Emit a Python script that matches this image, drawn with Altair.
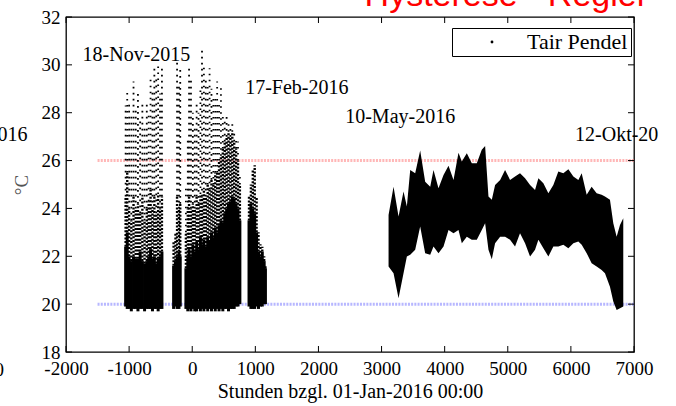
import altair as alt
import pandas as pd

# ---------------- data ----------------
x_ticks = [-2000, -1000, 0, 1000, 2000, 3000, 4000, 5000, 6000, 7000]
y_ticks = [18, 20, 22, 24, 26, 28, 30, 32]

# winter period (heating, scattered): hour, lower edge, top of dense band,
# top of moderately dense dots, highest point
w_hours = [-1055, -1030, -1000, -965, -930, -895, -860, -825, -790, -755, -720, -690,
           -660, -630, -600, -570, -540, -510, -480,
           -295, -265, -240, -210, -190,
           -100, -70, -50, -20, 10, 40, 70, 100, 130, 155, 185, 215, 245, 275, 305,
           335, 365, 395, 425, 455, 485, 515, 545, 575, 605, 635, 665, 695, 725, 755,
           900, 930, 960, 990, 1020, 1050, 1080, 1110, 1140, 1160]
w_low = [19.9, 19.8, 19.8, 19.7, 19.8, 19.8, 19.7, 19.8, 19.8, 19.7, 19.8, 19.8,
         19.8, 19.7, 19.8, 19.8, 19.7, 19.8, 19.8,
         19.8, 19.9, 19.8, 19.8, 19.9,
         19.8, 19.7, 19.8, 19.7, 19.8, 19.7, 19.7, 19.8, 19.7, 19.8, 19.7, 19.8, 19.7, 19.8, 19.7,
         19.8, 19.7, 19.8, 19.7, 19.8, 19.7, 19.8, 19.8, 19.7, 19.8, 19.8, 19.8, 19.9, 19.9, 20.0,
         19.9, 19.8, 19.8, 19.8, 19.9, 19.8, 19.9, 19.9, 20.0, 20.0]
w_dense = [22.4, 23.0, 22.0, 21.8, 22.0, 21.9, 21.9, 22.2, 21.8, 21.7, 21.8, 22.0,
           22.3, 21.9, 22.0, 21.7, 21.9, 22.0, 22.2,
           21.6, 21.8, 22.0, 22.2, 22.0,
           21.5, 22.0, 22.3, 22.0, 22.5, 22.2, 22.6, 22.3, 22.8, 22.5, 22.7, 22.4, 22.8, 22.6, 23.0,
           22.8, 23.2, 23.0, 23.3, 23.5, 23.4, 23.8, 24.0, 24.2, 24.3, 24.5, 24.4, 24.2, 24.0, 23.5,
           23.5, 24.2, 24.0, 23.8, 23.0, 22.2, 22.0, 22.2, 21.8, 21.5]
w_mid = [24.5, 25.5, 24.0, 23.5, 24.5, 24.0, 24.2, 23.8, 24.5, 23.5, 24.0, 24.3,
         24.8, 24.0, 24.5, 23.8, 24.6, 24.0, 24.5,
         22.6, 23.0, 24.5, 24.0, 24.2,
         23.0, 24.0, 24.5, 24.0, 24.2, 24.0, 24.5, 24.2, 24.6, 24.5, 24.8, 24.5, 25.0, 24.8, 25.2,
         25.0, 25.5, 25.5, 26.0, 26.2, 26.5, 26.8, 27.0, 27.2, 27.0, 27.2, 26.8, 26.5, 26.0, 25.0,
         24.5, 25.0, 25.6, 25.8, 24.5, 23.0, 22.5, 22.4, 22.0, 21.6]
w_top = [28.3, 28.95, 28.5, 28.0, 29.3, 28.2, 28.9, 27.8, 28.5, 27.5, 28.4, 28.0,
         29.4, 29.0, 30.0, 29.5, 30.1, 28.8, 30.0,
         22.6, 23.0, 30.1, 29.2, 29.9,
         25.0, 27.0, 29.86, 29.4, 28.0, 27.5, 28.5, 28.0, 29.0, 30.7, 29.9, 29.5, 29.2, 29.86, 29.0,
         28.7, 28.6, 29.3, 28.5, 29.1, 28.0, 27.8, 27.9, 27.6, 27.5, 27.6, 27.2, 27.0, 26.8, 25.5,
         24.5, 25.0, 25.6, 25.8, 24.5, 23.0, 22.5, 22.4, 22.0, 21.6]

# summer period (dense band): hour, upper edge, lower edge
s_hours = [3111, 3190, 3269, 3348, 3401, 3454, 3533, 3612, 3691, 3771, 3823, 3902,
           3982, 4061, 4140, 4219, 4272, 4351, 4430, 4509, 4588, 4641, 4694, 4747,
           4799, 4879, 4957, 5036, 5115, 5194, 5274, 5353, 5432, 5485, 5564, 5643,
           5722, 5801, 5880, 5960, 6039, 6118, 6171, 6250, 6329, 6408, 6487, 6540,
           6619, 6672, 6725, 6778, 6830]
s_top = [23.73, 24.91, 23.66, 24.71, 24.08, 25.61, 25.47, 26.42, 25.12, 24.91, 25.61, 24.84,
         25.40, 25.78, 25.19, 26.33, 25.96, 26.31, 25.89, 25.89, 26.45, 26.61, 24.50, 24.36,
         24.98, 25.19, 25.61, 25.19, 25.33, 25.47, 25.26, 24.98, 24.77, 25.26, 25.05, 24.63,
         24.98, 25.54, 25.47, 25.64, 25.33, 25.19, 25.47, 24.57, 24.91, 24.63, 24.57, 24.50,
         24.36, 23.38, 22.82, 23.31, 23.59]
s_low = [21.57, 21.29, 20.25, 21.29, 21.99, 22.06, 22.27, 23.24, 22.13, 22.06, 22.41, 22.13,
         22.41, 23.10, 22.96, 23.10, 22.55, 22.82, 22.69, 22.69, 23.10, 23.38, 22.27, 21.88,
         22.55, 22.82, 22.82, 22.69, 22.41, 22.96, 22.55, 21.99, 22.27, 22.69, 22.34, 21.99,
         22.41, 22.41, 22.48, 22.34, 22.55, 22.62, 22.48, 22.13, 21.71, 21.57, 21.43, 21.29,
         20.73, 20.11, 19.76, 19.83, 19.90]

series_name = "Tair Pendel"

# hysteresis limits
hyst_levels = [26, 20]
hyst_kind = ["upper", "lower"]
hyst_from = [-1500, -1500]
hyst_to = [7000, 7000]

# annotations
ann_text = ["18-Nov-2015", "17-Feb-2016", "10-May-2016", "12-Okt-20", "016"]
ann_x = [-884, 1657, 3295, 6726, -2847]
ann_y = [30.42, 29.02, 27.83, 27.07, 27.07]
frag_text = ["0"]
frag_x = [-3057]
frag_y = [17.25]

# ---------------- chart ----------------
W, H = 568, 335
SERIF = "Liberation Serif"

xs = alt.Scale(domain=[-2000, 7000], nice=False, zero=False)
ys = alt.Scale(domain=[18, 32], nice=False, zero=False)
xaxis = alt.Axis(values=x_ticks, title="Stunden bzgl. 01-Jan-2016 00:00",
                 labelExpr="'' + datum.value", labelPadding=7, titlePadding=3,
                 labelFlush=False, labelOverlap=False, domain=False, ticks=False, grid=False,
                 labelFont=SERIF, labelFontSize=19, labelColor="black",
                 titleFont=SERIF, titleFontSize=20, titleFontWeight="normal", titleColor="black")
yaxis = alt.Axis(values=y_ticks, title="°C", labelExpr="'' + datum.value",
                 labelPadding=6, titlePadding=10, labelFlush=False, labelOverlap=False,
                 domain=False, ticks=False, grid=False,
                 labelFont=SERIF, labelFontSize=19, labelColor="black",
                 titleFont=SERIF, titleFontSize=19, titleFontWeight="normal", titleColor="#555555")


def X(field):
    return alt.X(field, type="quantitative", scale=xs, axis=xaxis)


def Y(field):
    return alt.Y(field, type="quantitative", scale=ys, axis=yaxis)


winter = pd.DataFrame({"x": w_hours, "lo": w_low, "hi": w_dense, "mid": w_mid, "top": w_top})
summer = pd.DataFrame({"x": s_hours, "top": s_top, "lo": s_low,
                       "series": [series_name] * len(s_hours)})
hyst = pd.DataFrame({"x": hyst_from, "x2": hyst_to, "y": hyst_levels, "kind": hyst_kind})
ann = pd.DataFrame({"x": ann_x, "y": ann_y, "t": ann_text})
frag = pd.DataFrame({"x": frag_x, "y": frag_y, "t": frag_text})
xt = pd.DataFrame({"x": x_ticks})
yt = pd.DataFrame({"y": y_ticks})

lines = alt.Chart(hyst).mark_rule(strokeWidth=3, strokeDash=[2, 1.2], opacity=0.5).encode(
    x=X("x"), x2="x2", y=Y("y"),
    color=alt.Color("kind:N", scale=alt.Scale(domain=["upper", "lower"],
                                              range=["#ff7070", "#7070ff"]), legend=None),
)

dense = alt.Chart(winter).mark_rule(color="black", strokeWidth=3).encode(
    x=X("x"), y=Y("lo"), y2="hi")

medium = alt.Chart(winter).mark_rule(color="black", strokeWidth=2.4, strokeDash=[2, 1.6]).encode(
    x=X("x"), y=Y("hi"), y2="mid")

sparse = alt.Chart(winter).mark_rule(color="black", strokeWidth=1.8, strokeDash=[1.6, 4.4]).encode(
    x=X("x"), y=Y("mid"), y2="top")

band = alt.Chart(summer).mark_area(interpolate="linear").encode(
    x=X("x"), y=Y("top"), y2="lo",
    color=alt.Color("series:N", scale=alt.Scale(domain=[series_name], range=["black"]),
                    legend=alt.Legend(title=None, orient="none", legendX=386, legendY=11,
                                      symbolType="circle", symbolSize=8,
                                      symbolFillColor="black", symbolStrokeWidth=0,
                                      symbolOffset=26, labelOffset=24,
                                      labelFont=SERIF, labelFontSize=22, labelColor="black",
                                      strokeColor="black", fillColor="white",
                                      padding=3, cornerRadius=0)),
)

texts = alt.Chart(ann).mark_text(font=SERIF, fontSize=20, color="black",
                                 align="center", baseline="middle").encode(
    x=X("x"), y=Y("y"), text="t:N")

frag_t = alt.Chart(frag).mark_text(font=SERIF, fontSize=19, color="black",
                                   align="center", baseline="middle").encode(
    x=X("x"), y=Y("y"), text="t:N")

tick_len = 6
tb = alt.Chart(xt).mark_rule(color="black", strokeWidth=1).encode(
    x=X("x"), y=alt.value(H), y2=alt.value(H - tick_len))
tt = alt.Chart(xt).mark_rule(color="black", strokeWidth=1).encode(
    x=X("x"), y=alt.value(0), y2=alt.value(tick_len))
tl = alt.Chart(yt).mark_rule(color="black", strokeWidth=1).encode(
    y=Y("y"), x=alt.value(0), x2=alt.value(tick_len))
tr = alt.Chart(yt).mark_rule(color="black", strokeWidth=1).encode(
    y=Y("y"), x=alt.value(W), x2=alt.value(W - tick_len))

chart = alt.layer(lines, dense, medium, sparse, band, texts, frag_t, tb, tt, tl, tr).properties(
    width=W, height=H,
    autosize=alt.AutoSizeParams(type="none"),
    padding={"left": 66, "top": 17, "right": 42, "bottom": 54},
    background="white",
    title=alt.TitleParams("Hysterese - Regler", color="#ff0000", font="Liberation Sans",
                          fontSize=34, fontWeight="normal", anchor="end", frame="group",
                          dx=14, offset=-5),
).resolve_scale(color="independent").configure_view(
    stroke="black", strokeWidth=1.3
)

chart.save("out.html", embed_options={"renderer": "svg", "actions": False})
